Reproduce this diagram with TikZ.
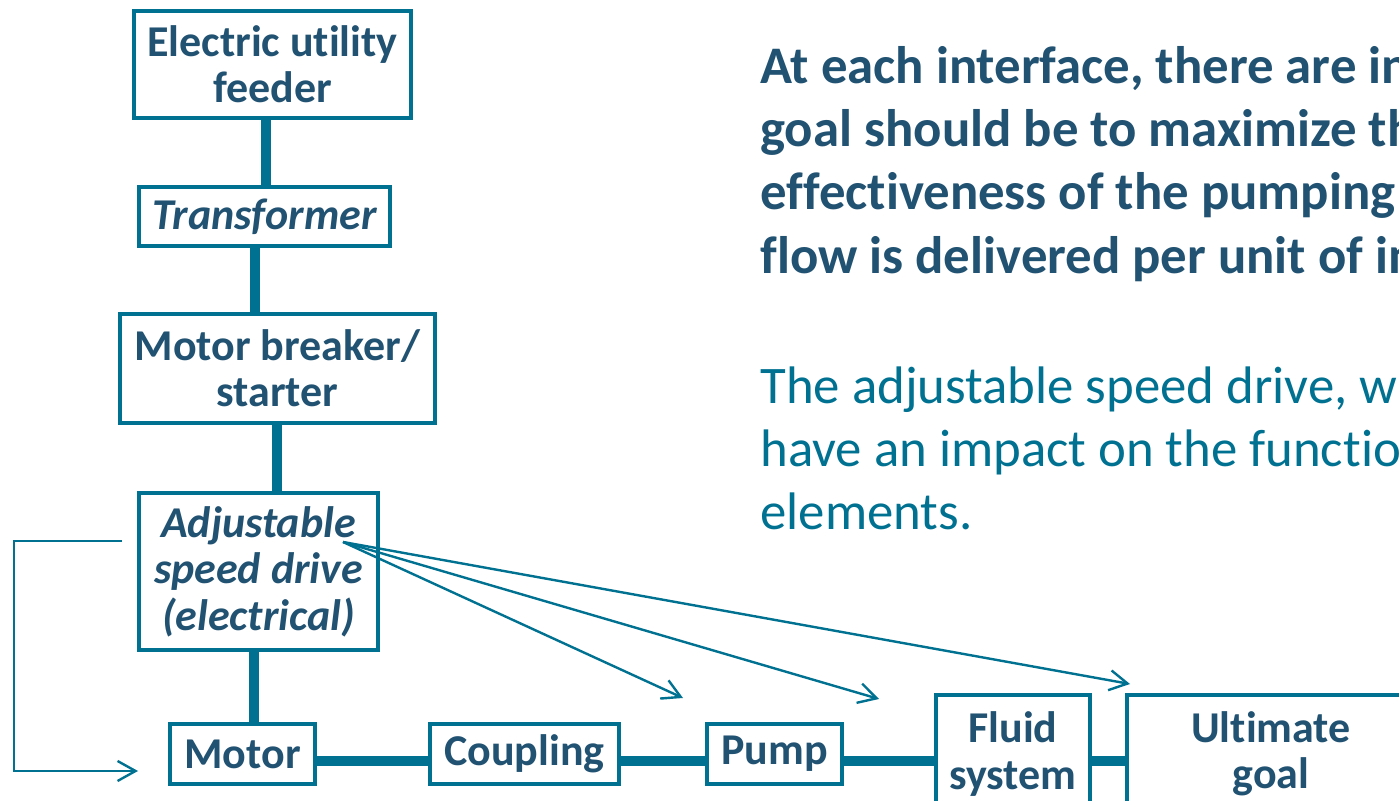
\documentclass[tikz,border=0pt]{standalone}
\usepackage{fontspec}
\setmainfont{Carlito}[RawFeature={-liga;-clig;-calt;-dlig}]
\usetikzlibrary{arrows.meta}
\definecolor{boxteal}{RGB}{0,113,145}
\definecolor{textblue}{RGB}{33,82,114}

\begin{document}
\begin{tikzpicture}[x=0.5pt,y=-0.5pt,
  blk/.style={draw=boxteal,line width=2pt,fill=white,text=textblue,align=center,inner sep=0pt,
    font=\fontsize{22}{23.2}\selectfont\bfseries},
  link/.style={draw=boxteal,line width=5pt},
  hint/.style={draw=boxteal,line width=1.2pt,-{Straight Barb[length=9pt,width=10pt]}}]
\clip (0,0) rectangle (1399,801);
\node[blk,minimum width=138.5pt,minimum height=53.5pt] (feeder) at (272.5,64.5) {Electric utility\\feeder};
\node[blk,minimum width=125.5pt,minimum height=29.5pt] (trafo) at (264.5,216.5) {\itshape Transformer};
\node[blk,minimum width=157.5pt,minimum height=54.5pt] (breaker) at (277.5,368.5) {Motor breaker/\\starter};
\node[blk,minimum width=119.5pt,minimum height=78.5pt] (asd) at (258.5,571.5) {\itshape Adjustable\\\itshape speed drive\\\itshape (electrical)};
\node[blk,minimum width=72.5pt,minimum height=30pt] (motor) at (242.5,754) {Motor};
\node[blk,minimum width=94.5pt,minimum height=30pt] (coupling) at (524.5,754) {Coupling};
\node[blk,minimum width=67.5pt,minimum height=30pt] (pump) at (774.5,754) {Pump};
\node[blk,minimum width=77pt,minimum height=59pt] (fluid) at (1013,754) {Fluid\\system};
\node[blk,minimum width=144pt,minimum height=59pt] (goal) at (1271,754) {Ultimate\\goal};
\draw[link] (feeder.south -| 266,0) -- (trafo.north -| 266,0);
\draw[link] (trafo.south -| 255,0) -- (breaker.north -| 255,0);
\draw[link] (breaker.south -| 277,0) -- (asd.north -| 277,0);
\draw[link] (asd.south -| 254,0) -- (motor.north -| 254,0);
\draw[link] (motor.east |- 0,761) -- (coupling.west |- 0,761);
\draw[link] (coupling.east |- 0,761) -- (pump.west |- 0,761);
\draw[link] (pump.east |- 0,761) -- (fluid.west |- 0,761);
\draw[link] (fluid.east |- 0,761) -- (goal.west |- 0,761);
\coordinate (src) at (343,542);
\coordinate (tippump) at (683,698);
\coordinate (tipfluid) at (879,699);
\coordinate (tipgoal) at (1130,684);
\draw[hint] (src) -- (tippump);
\draw[hint] (src) -- (tipfluid);
\draw[hint] (src) -- (tipgoal);
\coordinate (fbin) at (122,541);
\coordinate (fbout) at (138,771);
\draw[hint] (fbin) -- ++(-108,0) |- (fbout);
\node[anchor=base west,align=left,inner sep=0pt,text=textblue,
  font=\fontsize{26.4}{31.67}\selectfont\bfseries] (claim) at (760,273.3)
  {At each interface, there are in\\goal should be to maximize th\\effectiveness of the pumping\\flow is delivered per unit of in};
\node[anchor=base west,align=left,inner sep=0pt,text=boxteal,
  font=\fontsize{26.4}{31.67}\selectfont] (note) at (760,530)
  {The adjustable speed drive, w\\have an impact on the functio\\elements.};
\end{tikzpicture}
\end{document}
